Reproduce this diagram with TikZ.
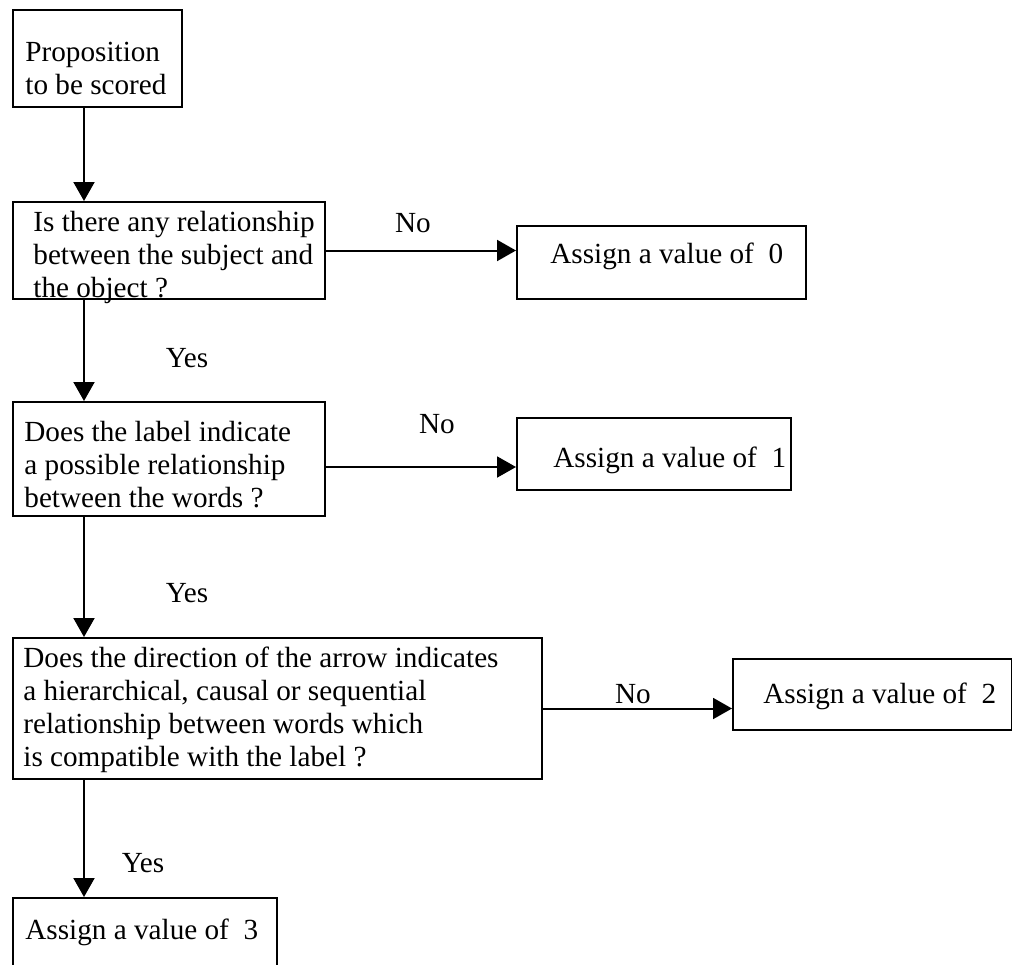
\documentclass[tikz,border=0pt]{standalone}
\usepackage{fontspec}
\setmainfont{Liberation Serif}
\usetikzlibrary{arrows.meta}
\begin{document}
\begin{tikzpicture}[x=0.5pt,y=-0.5pt,
  box/.style={draw,line width=1pt,inner sep=0pt,anchor=north west},
  txt/.style={inner sep=0pt,anchor=north west,align=left,font=\fontsize{14.6}{16.5}\selectfont},
  lbl/.style={inner sep=0pt,anchor=base,font=\fontsize{14.6}{16.5}\selectfont},
  arr/.style={line width=1pt,-{Triangle[length=9.5pt,width=10.5pt]}}
  ]
    \useasboundingbox (0,0) rectangle (1012,964);
    \coordinate (spine) at (84,0);

    \node[box,minimum width=84.5pt,minimum height=48.5pt] (prop) at (12,9) {};
    \node[txt] (prop-t) at (25,42) {Proposition\\to be scored};

    \node[box,minimum width=156pt,minimum height=48.5pt] (rel) at (12,201) {};
    \node[txt] (rel-t) at (33,211) {Is there any relationship\\between the subject and\\the object ?};

    \node[box,minimum width=144.5pt,minimum height=36.5pt] (v0) at (516,225) {};
    \node[txt] (v0-t) at (550,243) {Assign a value of \ 0};

    \node[box,minimum width=156pt,minimum height=57pt] (lab) at (12,401) {};
    \node[txt] (lab-t) at (24,421) {Does the label indicate\\a possible relationship\\between the words ?};

    \node[box,minimum width=137pt,minimum height=36pt] (v1) at (516,417) {};
    \node[txt] (v1-t) at (553,447) {Assign a value of \ 1};

    \node[box,minimum width=264.5pt,minimum height=70.5pt] (dir) at (12,637) {};
    \node[txt] (dir-t) at (23,647) {Does the direction of the arrow indicates\\a hierarchical, causal or sequential\\relationship between words which\\is compatible with the label ?};

    \node[box,minimum width=139.5pt,minimum height=35.5pt] (v2) at (732,658) {};
    \node[txt] (v2-t) at (763,683) {Assign a value of \ 2};

    \node[box,minimum width=132pt,minimum height=50pt] (v3) at (12,897) {};
    \node[txt] (v3-t) at (25,919) {Assign a value of \ 3};

    \draw[arr] (prop.south -| spine) -- (rel.north -| spine);
    \draw[arr] (rel.south -| spine) -- (lab.north -| spine);
    \draw[arr] (lab.south -| spine) -- (dir.north -| spine);
    \draw[arr] (dir.south -| spine) -- (v3.north -| spine);
    \draw[arr] (rel.east) -- (rel.east -| v0.west);
    \draw[arr] ([yshift=-4pt]lab.east) -- ([yshift=-4pt]lab.east -| v1.west);
    \draw[arr] (dir.east) -- (dir.east -| v2.west);

    \node[lbl] (no-a) at (413,232) {No};
    \node[lbl] (yes-a) at (187,367) {Yes};
    \node[lbl] (no-b) at (437,433) {No};
    \node[lbl] (yes-b) at (187,602) {Yes};
    \node[lbl] (no-c) at (633,703) {No};
    \node[lbl] (yes-c) at (143,872) {Yes};
\end{tikzpicture}
\end{document}
